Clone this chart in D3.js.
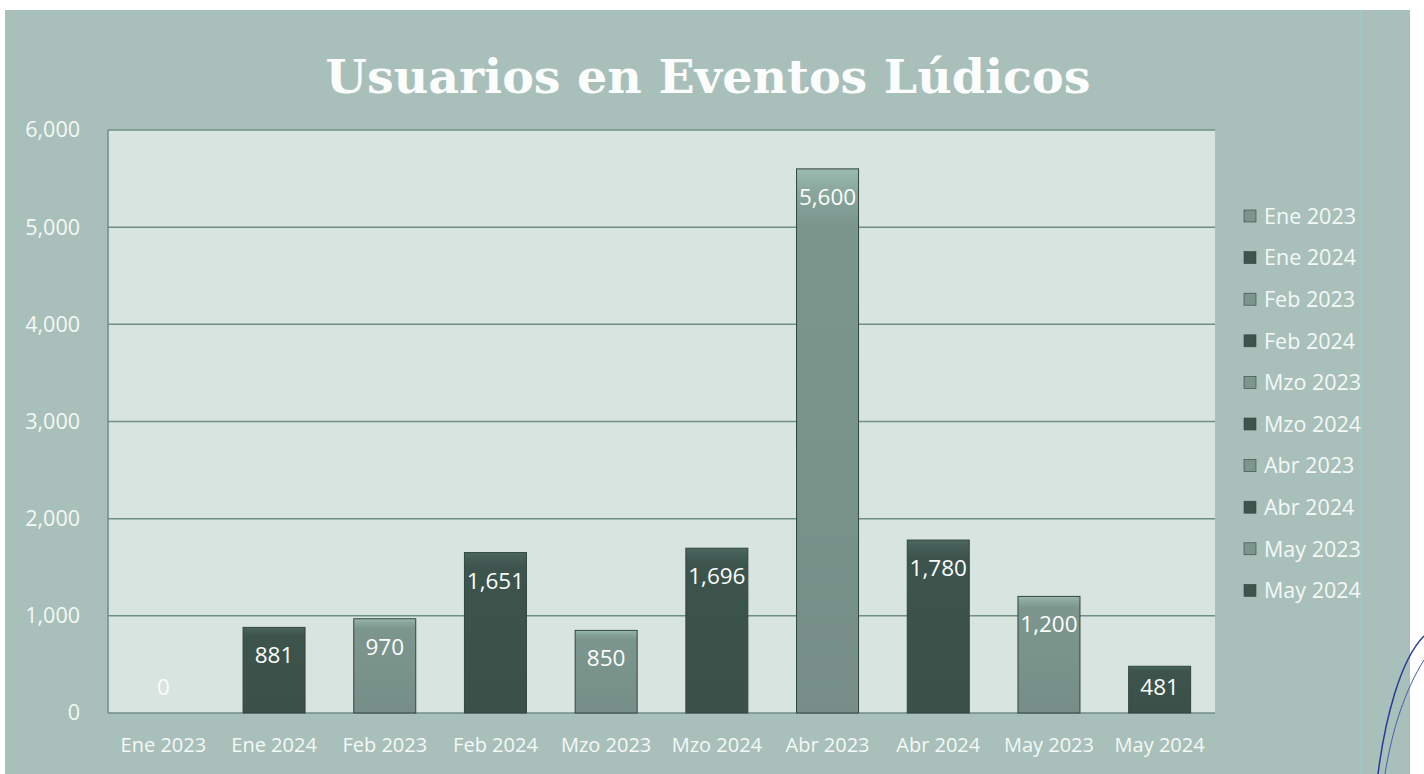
<!DOCTYPE html>
<html><head><meta charset="utf-8">
<script src="https://cdn.jsdelivr.net/npm/d3@7"></script>
<style>body{margin:0;background:#fff;}svg{display:block;}</style>
</head><body>
<script>
const categories = ["Ene 2023","Ene 2024","Feb 2023","Feb 2024","Mzo 2023","Mzo 2024","Abr 2023","Abr 2024","May 2023","May 2024"];
const values = [0,881,970,1651,850,1696,5600,1780,1200,481];
const yTicks = [0,1000,2000,3000,4000,5000,6000];
const title = "Usuarios en Eventos Lúdicos";

const W=1424,H=774;
const svg=d3.select("body").append("svg").attr("width",W).attr("height",H);
const defs=svg.append("defs");
const light="#7c968e", dark="#3d544d";
function grad(id,c){
  const g=defs.append("linearGradient").attr("id",id).attr("x1",0).attr("x2",0).attr("y1",0).attr("y2",1);
  g.append("stop").attr("offset","0").attr("stop-color",d3.color(c).brighter(0.6));
  g.append("stop").attr("offset","0.04").attr("stop-color",d3.color(c).brighter(0.3));
  g.append("stop").attr("offset","0.1").attr("stop-color",c);
  g.append("stop").attr("offset","1").attr("stop-color",d3.color(c).darker(0.15));
}
grad("gl",light);grad("gd",dark);

svg.append("rect").attr("x",5).attr("y",10).attr("width",1405).attr("height",764).attr("fill","#a8c0b9");
svg.append("line").attr("x1",1361).attr("x2",1361).attr("y1",10).attr("y2",774).attr("stroke","#8fd3d0").attr("stroke-width",1);

const m={l:108,r:1215,t:130,b:713};
const x=d3.scaleBand().domain(categories).range([m.l,m.r]).paddingInner(0.44).paddingOuter(0.22);
const y=d3.scaleLinear().domain([0,6000]).range([m.b,m.t]);

svg.append("rect").attr("x",m.l).attr("y",m.t).attr("width",m.r-m.l).attr("height",m.b-m.t).attr("fill","#d7e4e0");

svg.append("g").selectAll("line").data(yTicks).join("line")
  .attr("x1",m.l).attr("x2",m.r).attr("y1",d=>y(d)).attr("y2",d=>y(d))
  .attr("stroke","#6f8f86").attr("stroke-width",1.5);
svg.append("line").attr("x1",m.l).attr("x2",m.l).attr("y1",m.t).attr("y2",m.b).attr("stroke","#6f8f86").attr("stroke-width",1.5);

const yAxis=svg.append("g").attr("transform",`translate(${m.l-25},0)`)
  .call(d3.axisLeft(y).tickValues(yTicks).tickFormat(d3.format(",")).tickSize(0));
yAxis.select(".domain").remove();
yAxis.selectAll("text").attr("fill","#f4f8f7").attr("font-family","Open Sans").attr("font-size",21.5);

const xAxis=svg.append("g").attr("transform",`translate(0,${m.b+18})`)
  .call(d3.axisBottom(x).tickSize(0));
xAxis.select(".domain").remove();
xAxis.selectAll("text").attr("fill","#f4f8f7").attr("font-family","Open Sans").attr("font-size",20).attr("dy","0.9em");

svg.append("g").selectAll("rect").data(values).join("rect")
  .attr("x",(d,i)=>x(categories[i])).attr("width",x.bandwidth())
  .attr("y",d=>y(d)).attr("height",d=>y(0)-y(d))
  .attr("fill",(d,i)=>i%2?"url(#gd)":"url(#gl)")
  .attr("stroke","#33453f").attr("stroke-width",1);

svg.append("g").selectAll("text").data(values).join("text")
  .attr("x",(d,i)=>x(categories[i])+x.bandwidth()/2)
  .attr("y",d=>Math.min(y(d)+30,y(0)-24))
  .attr("text-anchor","middle").attr("dominant-baseline","middle")
  .attr("fill","#fbfdfc").attr("font-family","Open Sans").attr("font-size",22.5)
  .text(d=>d3.format(",")(d));

svg.append("text").attr("x",708).attr("y",93).attr("text-anchor","middle")
  .attr("font-family","DejaVu Serif").attr("font-weight","bold").attr("font-size",47.5)
  .attr("fill","#fbfdfc").text(title);

const lg=svg.append("g").selectAll("g").data(categories).join("g")
  .attr("transform",(d,i)=>`translate(1244,${216+i*41.6})`);
lg.append("rect").attr("x",0).attr("y",-6).attr("width",12).attr("height",12)
  .attr("fill",(d,i)=>i%2?dark:light).attr("stroke","#33453f").attr("stroke-width",0.6);
lg.append("text").attr("x",20).attr("dy","0.36em").attr("fill","#f4f8f7")
  .attr("font-family","Open Sans").attr("font-size",21.5).text(d=>d);

svg.append("path").attr("d","M1424,636 C1400,660 1385,720 1378,774").attr("fill","none").attr("stroke","#2a3a9a").attr("stroke-width",1.5);
svg.append("path").attr("d","M1424,660 C1405,690 1392,730 1385,774").attr("fill","none").attr("stroke","#4a5ab0").attr("stroke-width",1);
</script>
</body></html>
